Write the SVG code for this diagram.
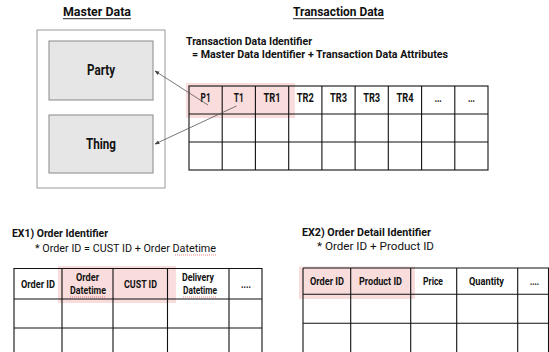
<svg xmlns="http://www.w3.org/2000/svg" width="549" height="352" viewBox="0 0 549 352">
<defs>
<style>
text{font-family:Roboto,"Liberation Sans",sans-serif;fill:#111}
.t{font-size:13px;font-weight:bold}
.h{font-size:12px;font-weight:bold}
.s{font-size:10px;font-weight:bold}
.r{font-size:11px;font-weight:normal}
.c{text-anchor:middle}
.grid{stroke:#111;stroke-width:1.1;fill:none}
.pink{fill:#f9dcdc;stroke:none}
.wavy{stroke:#e05050;stroke-width:0.7;fill:none;stroke-dasharray:1 1}
.conn{stroke:#555;stroke-width:0.8;fill:none;marker-end:url(#ah)}
</style>
<marker id="ah" viewBox="0 0 10 10" refX="9" refY="5" markerWidth="6" markerHeight="6" orient="auto">
<path d="M0,1 L10,5 L0,9 z" fill="#444"/>
</marker>
</defs>
<rect width="549" height="352" fill="#fff"/>

<g id="master-data">
<text class="t" x="63" y="16" textLength="68" lengthAdjust="spacingAndGlyphs">Master Data</text>
<line x1="63" y1="18.7" x2="131" y2="18.7" stroke="#111" stroke-width="0.9"/>
<rect x="37" y="30" width="128" height="158" fill="#fff" stroke="#999" stroke-width="1"/>
</g>
<g id="party">
<rect x="49" y="41" width="104" height="59" fill="#e6e6e6" stroke="#888" stroke-width="1"/>
<text class="h c" x="101" y="75" textLength="28" lengthAdjust="spacingAndGlyphs" style="font-size:14px">Party</text>
</g>
<g id="thing">
<rect x="49" y="115" width="104" height="58" fill="#e6e6e6" stroke="#888" stroke-width="1"/>
<text class="h c" x="101" y="149" textLength="30" lengthAdjust="spacingAndGlyphs" style="font-size:14px">Thing</text>
</g>

<g id="transaction-data">
<text class="t" x="293" y="16" textLength="91" lengthAdjust="spacingAndGlyphs">Transaction Data</text>
<line x1="293" y1="18.7" x2="384" y2="18.7" stroke="#111" stroke-width="0.9"/>
<text class="s" x="186" y="45" style="font-size:11px" textLength="126" lengthAdjust="spacingAndGlyphs">Transaction Data Identifier</text>
<text class="s" x="192" y="58" style="font-size:11px" textLength="256" lengthAdjust="spacingAndGlyphs">= Master Data Identifier + Transaction Data Attributes</text>
</g>

<g id="transaction-table">
<rect class="pink" x="186" y="83" width="109" height="35"/>
<rect class="grid" x="189" y="86" width="299" height="84"/>
<path class="grid" d="M189,114H488M189,142H488M222.2,86V170M255.4,86V170M288.7,86V170M321.9,86V170M355.1,86V170M388.3,86V170M421.6,86V170M454.8,86V170"/>
<g class="h c">
<text x="205.6" y="102" textLength="10" lengthAdjust="spacingAndGlyphs">P1</text>
<text x="238.8" y="102" textLength="10" lengthAdjust="spacingAndGlyphs">T1</text>
<text x="272" y="102" textLength="17" lengthAdjust="spacingAndGlyphs">TR1</text>
<text x="305.3" y="102" textLength="17" lengthAdjust="spacingAndGlyphs">TR2</text>
<text x="338.5" y="102" textLength="17" lengthAdjust="spacingAndGlyphs">TR3</text>
<text x="371.7" y="102" textLength="17" lengthAdjust="spacingAndGlyphs">TR3</text>
<text x="405" y="102" textLength="17" lengthAdjust="spacingAndGlyphs">TR4</text>
<text x="438.2" y="102" textLength="7" lengthAdjust="spacingAndGlyphs">...</text>
<text x="471.4" y="102" textLength="7" lengthAdjust="spacingAndGlyphs">...</text>
</g>
</g>

<g id="connectors">
<line class="conn" x1="208" y1="105" x2="155" y2="71"/>
<line class="conn" x1="236.5" y1="106" x2="155" y2="144"/>
</g>

<g id="ex1">
<text class="s" x="12" y="237" style="font-size:11px" textLength="96" lengthAdjust="spacingAndGlyphs">EX1) Order Identifier</text>
<text class="r" x="35" y="252" textLength="181" lengthAdjust="spacingAndGlyphs">* Order ID = CUST ID + Order Datetime</text>
<path class="wavy" d="M175,255 h41"/>
<rect class="pink" x="58" y="266" width="118" height="37"/>
<path class="grid" d="M14,268.5H262M14,299H262M14,328H262M14,268V352M62,268V352M113,268V352M167.5,268V352M229,268V352M262,268V352"/>
<g class="s c">
<text x="38" y="288" textLength="34" lengthAdjust="spacingAndGlyphs">Order ID</text>
<text x="87.5" y="281" textLength="23" lengthAdjust="spacingAndGlyphs">Order</text>
<text x="88" y="294" textLength="36" lengthAdjust="spacingAndGlyphs">Datetime</text>
<text x="140.5" y="288" textLength="33" lengthAdjust="spacingAndGlyphs">CUST ID</text>
<text x="198" y="281" textLength="32" lengthAdjust="spacingAndGlyphs">Delivery</text>
<text x="200" y="294" textLength="34" lengthAdjust="spacingAndGlyphs">Datetime</text>
<text x="246" y="288" textLength="10" lengthAdjust="spacingAndGlyphs">....</text>
</g>
<path class="wavy" d="M70,297 h36M183,297 h34"/>
</g>

<g id="ex2">
<text class="s" x="302" y="236" style="font-size:11px" textLength="129" lengthAdjust="spacingAndGlyphs">EX2) Order Detail Identifier</text>
<text class="r" x="317" y="250" textLength="117" lengthAdjust="spacingAndGlyphs">* Order ID + Product ID</text>
<rect class="pink" x="299" y="266.5" width="116" height="32.5"/>
<path class="grid" d="M303,268H549M303,294.3H549M303,323.3H549M303,268V352M350.7,268V352M410.7,268V352M456.7,268V352M517.7,268V352M548.5,268V352"/>
<g class="s c">
<text x="327" y="285" textLength="34" lengthAdjust="spacingAndGlyphs">Order ID</text>
<text x="380.5" y="285" textLength="43" lengthAdjust="spacingAndGlyphs">Product ID</text>
<text x="433" y="285" textLength="20" lengthAdjust="spacingAndGlyphs">Price</text>
<text x="486.5" y="285" textLength="35" lengthAdjust="spacingAndGlyphs">Quantity</text>
<text x="534.5" y="285" textLength="9" lengthAdjust="spacingAndGlyphs">....</text>
</g>
</g>
</svg>
